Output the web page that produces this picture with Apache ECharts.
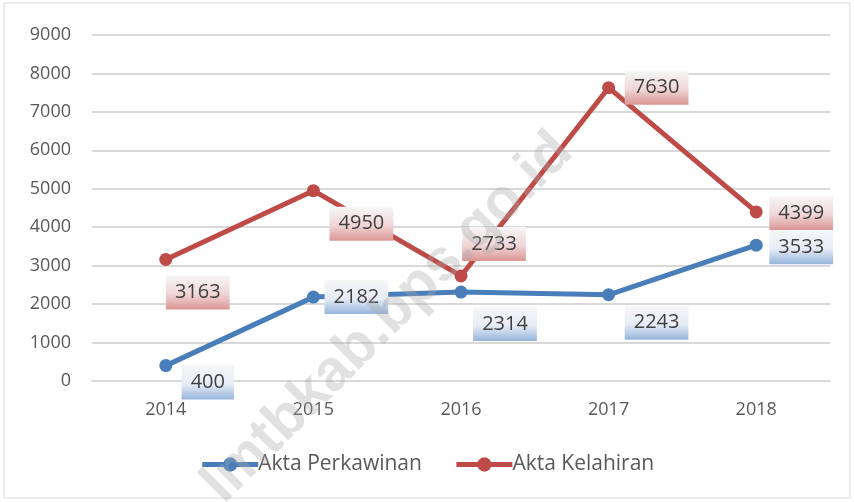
<!DOCTYPE html>
<html>
<head>
<meta charset="utf-8">
<script src="https://cdn.jsdelivr.net/npm/echarts@6/dist/echarts.min.js"></script>
<style>
  html, body { margin: 0; padding: 0; background: #fff; }
  #chart { width: 854px; height: 502px; }
</style>
</head>
<body>
<div id="chart"></div>
<script>
  // data
  const years = ['2014', '2015', '2016', '2017', '2018']
  const aktaPerkawinan = [400, 2182, 2314, 2243, 3533]
  const aktaKelahiran = [3163, 4950, 2733, 7630, 4399]

  // label offsets from the point (like the excel data labels)
  const blueOffsets = [[42, 17], [43, 0], [44, 32], [48, 28], [45, 2]]
  const redOffsets = [[32, 33], [48, 33], [33, -32], [48, 0], [45, 1]]

  const font = 'Open Sans, Liberation Sans, sans-serif'

  function labelBg(c1, c2) {
    return {
      type: 'linear', x: 0, y: 0, x2: 0, y2: 1,
      colorStops: [
        { offset: 0, color: '#f6f6f8' },
        { offset: 0.55, color: c1 },
        { offset: 1, color: c2 }
      ]
    }
  }

  function makeData(values, offsets, bg) {
    return values.map(function(v, i) {
      return {
        value: v,
        label: {
          show: true,
          position: 'inside',
          offset: offsets[i],
          backgroundColor: bg,
          padding: [8, 9, 6, 9],
          color: '#404040',
          fontSize: 20,
          fontFamily: font
        }
      }
    })
  }

  const chart = echarts.init(document.getElementById('chart'))
  chart.setOption({
    animation: false,
    graphic: [
      {
        type: 'rect',
        shape: { x: 4, y: 3, width: 846, height: 495 },
        style: { fill: 'none', stroke: '#d9d9d9', lineWidth: 1 },
        z: 0
      },
      {
        type: 'text',
        x: 388,
        y: 318,
        rotation: Math.PI / 4,
        z: 100,
        style: {
          text: 'lmtbkab.bps.go.id',
          fontSize: 58,
          fontWeight: 'bold',
          fontFamily: 'Liberation Sans, sans-serif',
          fill: 'rgba(170,170,170,0.35)',
          align: 'center',
          verticalAlign: 'middle'
        }
      }
    ],
    grid: { left: 92, right: 24, top: 35, bottom: 121 },
    legend: {
      bottom: 22,
      left: 'center',
      itemWidth: 56,
      itemHeight: 18,
      itemGap: 32,
      lineStyle: { width: 5 },
      textStyle: { color: '#595959', fontSize: 21, fontFamily: font, padding: [0, 0, 0, -5] },
      data: ['Akta Perkawinan', 'Akta Kelahiran']
    },
    xAxis: {
      type: 'category',
      data: years,
      boundaryGap: true,
      axisLine: { lineStyle: { color: '#d9d9d9', width: 2 } },
      axisTick: { show: false },
      axisLabel: { color: '#595959', fontSize: 18, fontFamily: font, margin: 20 }
    },
    yAxis: {
      type: 'value',
      min: 0,
      max: 9000,
      interval: 1000,
      axisLine: { show: false },
      axisTick: { show: false },
      splitLine: { lineStyle: { color: '#d9d9d9', width: 2 } },
      axisLabel: {
        color: '#595959', fontSize: 18, fontFamily: font, margin: 21,
        formatter: function(v) { return String(v) }
      }
    },
    series: [
      {
        name: 'Akta Perkawinan',
        type: 'line',
        data: makeData(aktaPerkawinan, blueOffsets, labelBg('#e6ecf6', '#95b4dc')),
        symbol: 'circle',
        symbolSize: 13,
        lineStyle: { width: 5, color: '#4a7ebb' },
        itemStyle: { color: '#4a7ebb' },
        z: 3
      },
      {
        name: 'Akta Kelahiran',
        type: 'line',
        data: makeData(aktaKelahiran, redOffsets, labelBg('#f0d6d6', '#da9694')),
        symbol: 'circle',
        symbolSize: 13,
        lineStyle: { width: 5, color: '#be4b48' },
        itemStyle: { color: '#be4b48' },
        z: 2
      }
    ]
  })
</script>
</body>
</html>
